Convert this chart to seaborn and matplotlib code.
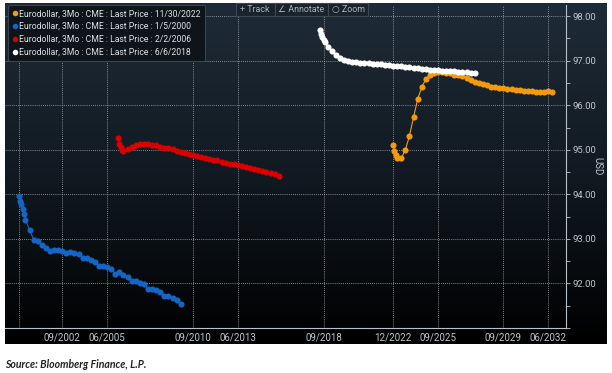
import numpy as np
import pandas as pd
import seaborn as sns
import matplotlib.pyplot as plt
import matplotlib.dates as mdates
from matplotlib.colors import LinearSegmentedColormap
from matplotlib.lines import Line2D
from matplotlib.patches import Rectangle

# Contract months per curve (serial months first, then quarterly)
months_2022 = (list(pd.date_range("2022-12-01", "2023-03-01", freq="MS"))
               + list(pd.date_range("2023-06-01", "2032-09-01", freq="3MS")))
months_2000 = (list(pd.date_range("2000-01-01", "2000-06-01", freq="MS"))
               + list(pd.date_range("2000-09-01", "2009-12-01", freq="3MS")))
months_2006 = (list(pd.date_range("2006-02-01", "2006-06-01", freq="MS"))
               + list(pd.date_range("2006-09-01", "2015-12-01", freq="3MS")))
months_2018 = (list(pd.date_range("2018-06-01", "2018-10-01", freq="MS"))
               + list(pd.date_range("2018-12-01", "2027-12-01", freq="3MS")))

# Prices
price_2022 = [95.10, 94.98, 94.89, 94.82,
              94.81, 95.00, 95.31, 95.73, 96.13, 96.41, 96.58, 96.67, 96.72, 96.74,
              96.74, 96.73, 96.72, 96.69, 96.67, 96.65, 96.62, 96.57, 96.53, 96.49,
              96.47, 96.45, 96.42, 96.41, 96.39, 96.38, 96.37, 96.36, 96.35, 96.34,
              96.33, 96.32, 96.31, 96.30, 96.29, 96.30, 96.32, 96.29]
price_2000 = [93.97, 93.86, 93.78, 93.67, 93.56, 93.42,
              93.20, 92.98, 92.95, 92.87, 92.79, 92.73, 92.76, 92.75, 92.73, 92.68,
              92.70, 92.69, 92.66, 92.57, 92.57, 92.52, 92.49, 92.40, 92.40, 92.36,
              92.32, 92.22, 92.25, 92.19, 92.15, 92.06, 92.06, 92.02, 91.98, 91.88,
              91.88, 91.85, 91.81, 91.71, 91.71, 91.67, 91.63, 91.53]
price_2006 = [95.26, 95.14, 95.06, 95.00, 94.98,
              95.01, 95.06, 95.10, 95.12, 95.13, 95.12, 95.11, 95.10, 95.07, 95.04,
              95.03, 95.01, 94.98, 94.95, 94.92, 94.91, 94.88, 94.86, 94.84, 94.82,
              94.79, 94.77, 94.76, 94.73, 94.70, 94.68, 94.67, 94.66, 94.64, 94.61,
              94.60, 94.58, 94.55, 94.53, 94.51, 94.49, 94.46, 94.42]
price_2018 = [97.68, 97.61, 97.54, 97.47, 97.41,
              97.31, 97.22, 97.13, 97.07, 97.01, 96.99, 96.97, 96.96, 96.95, 96.94,
              96.94, 96.93, 96.93, 96.92, 96.91, 96.90, 96.89, 96.88, 96.87, 96.86,
              96.85, 96.83, 96.83, 96.82, 96.81, 96.80, 96.79, 96.78, 96.77, 96.77,
              96.76, 96.76, 96.75, 96.74, 96.74, 96.73, 96.73]

labels = ["Eurodollar, 3Mo : CME : Last Price : 11/30/2022",
          "Eurodollar, 3Mo : CME : Last Price : 1/5/2000",
          "Eurodollar, 3Mo : CME : Last Price : 2/2/2006",
          "Eurodollar, 3Mo : CME : Last Price : 6/6/2018"]
colors = ["#f59a0c", "#1565c4", "#d90000", "#ffffff"]

tick_dates = ["2000-01-01", "2002-09-01", "2005-06-01", "2010-09-01", "2013-06-01",
              "2018-09-01", "2022-12-01", "2025-09-01", "2029-09-01", "2032-06-01"]
tick_labels = ["", "09/2002", "06/2005", "09/2010", "06/2013",
               "09/2018", "12/2022", "09/2025", "09/2029", "06/2032"]

frames = []
for lab, d, v in zip(labels, [months_2022, months_2000, months_2006, months_2018],
                     [price_2022, price_2000, price_2006, price_2018]):
    frames.append(pd.DataFrame({"Contract": d, "Price": v, "Curve": lab}))
df = pd.concat(frames, ignore_index=True)

sns.set_theme(style="dark")
plt.rcParams["font.family"] = ["Roboto", "DejaVu Sans"]

fig = plt.figure(figsize=(6.12, 3.73), dpi=100, facecolor="white")

# dark gradient panel behind the chart
bg = fig.add_axes([5 / 612, 1 - 344 / 373, 602 / 612, 341 / 373], zorder=0)
grad_cmap = LinearSegmentedColormap.from_list("bbg", ["#1f2b37", "#111a22", "#000000"])
bg.imshow(np.linspace(0, 1, 256).reshape(-1, 1), aspect="auto", cmap=grad_cmap,
          extent=[0, 1, 0, 1], origin="upper")
bg.set_axis_off()

ax = fig.add_axes([5 / 612, 1 - 328 / 373, 561 / 612, 323 / 373], zorder=1)
ax.set_facecolor("none")

sns.lineplot(data=df, x="Contract", y="Price", hue="Curve", hue_order=labels,
             palette=colors, marker="o", markersize=4.4, markeredgewidth=0,
             linewidth=0.8, estimator=None, legend=False, ax=ax)

ax.set_xlim(mdates.date2num(pd.Timestamp("1999-03-01")),
            mdates.date2num(pd.Timestamp("2033-07-01")))
ax.set_ylim(91.0, 98.25)
ax.set_xticks(mdates.date2num(pd.to_datetime(tick_dates)))
ax.set_xticklabels(tick_labels)
ax.set_yticks(np.arange(91, 99))
ax.set_yticklabels([""] + [f"{v:.2f}" for v in range(92, 99)])
ax.set_yticks(np.arange(91.5, 98.0, 1.0), minor=True)
ax.yaxis.tick_right()
ax.yaxis.set_label_position("right")
ax.set_xlabel("")
ax.set_ylabel("USD", rotation=270, color="#c0c6cc", fontsize=7, labelpad=4)

ax.grid(True, which="major", color="#a8b0b8", linestyle=(0, (1, 1.5)), linewidth=0.6)
ax.tick_params(axis="x", colors="#c0c6cc", labelsize=7, length=3, width=0.6,
               direction="in", pad=3)
ax.tick_params(axis="y", which="both", colors="#c0c6cc", labelsize=6.8, length=3,
               width=0.6, direction="out", pad=2, right=True, left=False)
for side in ["left", "top"]:
    ax.spines[side].set_visible(False)
for side in ["right", "bottom"]:
    ax.spines[side].set_visible(True)
    ax.spines[side].set_color("#b8c0c8")
    ax.spines[side].set_linewidth(0.8)

handles = [Line2D([], [], marker="o", linestyle="", color=c, markersize=4,
                  markeredgewidth=0) for c in colors]
leg = ax.legend(handles, labels, loc="upper left", bbox_to_anchor=(0.005, 1.0),
                borderaxespad=0, frameon=True, facecolor="#0e1419", edgecolor="#3a444e",
                framealpha=1, fontsize=6.2, labelcolor="#dde1e5",
                handletextpad=0.15, handlelength=0.7, borderpad=0.5, labelspacing=0.45)
leg.get_frame().set_linewidth(0.8)

# toolbar strip
fig.patches.append(Rectangle((236 / 612, 1 - 16 / 373), 132 / 612, 13 / 373,
                             transform=fig.transFigure, facecolor="#1a232c",
                             edgecolor="#3d4853", linewidth=0.8, zorder=5))
for xp, txt in [(255, "+ Track"), (301, "∠ Annotate"), (348, "○ Zoom")]:
    fig.text(xp / 612, 1 - 9.5 / 373, txt, ha="center", va="center",
             color="#aab2ba", fontsize=6.4, zorder=6)
for xp in [275, 328]:
    fig.add_artist(Line2D([xp / 612, xp / 612], [1 - 16 / 373, 1 - 3 / 373],
                          color="#3d4853", linewidth=0.8, zorder=6))

fig.text(5 / 612, 1 - 365 / 373, "Source: Bloomberg Finance, L.P.", ha="left",
         va="center", fontsize=7.6, style="italic", weight="bold", color="#222222",
         family=["Lato", "DejaVu Sans"])

fig.savefig("out.png", dpi=100, facecolor="white")
